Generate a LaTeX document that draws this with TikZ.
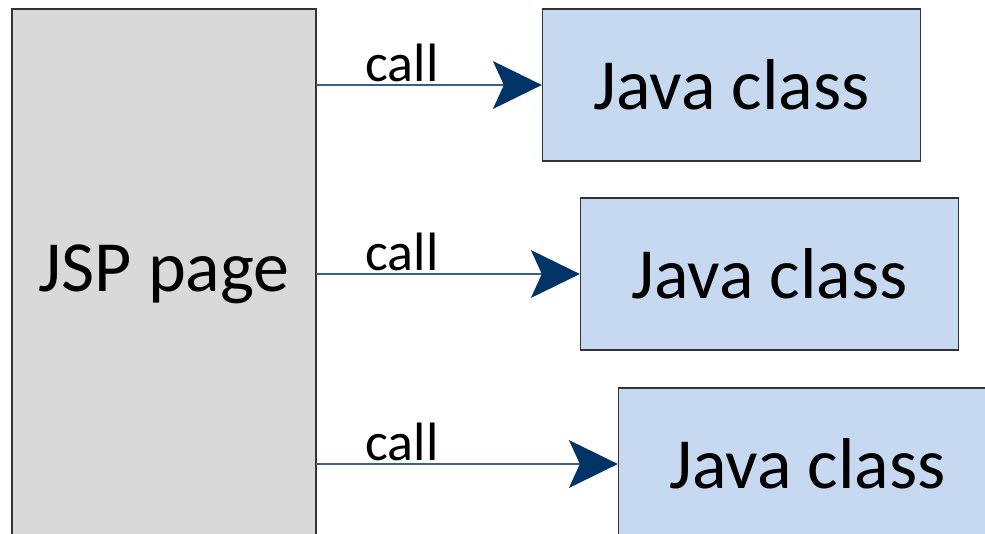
\documentclass[tikz,border=0pt]{standalone}
\usepackage{fontspec}
\setmainfont{Carlito}
\usetikzlibrary{arrows.meta}
\definecolor{jspgray}{HTML}{D9D9D9}
\definecolor{javablue}{HTML}{C6D9F1}
\definecolor{tipblue}{HTML}{003366}
\definecolor{lineblue}{HTML}{3A5F8F}
\begin{document}
\begin{tikzpicture}[x=1pt,y=-1pt,
  jspbox/.style={draw=black!80,line width=1.3pt,fill=jspgray,minimum width=304pt,minimum height=530pt,inner sep=0pt,font=\fontsize{72}{80}\selectfont},
  javabox/.style={draw=black!80,line width=1.3pt,fill=javablue,minimum width=378pt,minimum height=152pt,inner sep=0pt,font=\fontsize{72}{80}\selectfont},
  callarrow/.style={draw=lineblue,line width=1.1pt,-{Stealth[length=49pt,width=48pt,inset=11pt,color=tipblue,line width=0pt]}},
  calllabel/.style={font=\fontsize{54}{60}\selectfont,inner sep=0pt}]
\useasboundingbox (0,0) rectangle (985,533);
\clip (0,0) rectangle (985,533);
\node[jspbox] (jsp) at (164,274) {JSP page};
\node[javabox] (j1) at (731.5,85) {Java class};
\node[javabox] (j2) at (769.5,274) {Java class};
\node[javabox] (j3) at (807.5,464) {Java class};
\coordinate (s1) at (316,85);
\coordinate (s2) at (316,274);
\coordinate (s3) at (316,464);
\draw[callarrow] (s1) -- (j1.west);
\draw[callarrow] (s2) -- (j2.west);
\draw[callarrow] (s3) -- (j3.west);
\node[calllabel] (c1) at (402,63) {call};
\node[calllabel] (c2) at (402,252) {call};
\node[calllabel] (c3) at (402,442) {call};
\end{tikzpicture}
\end{document}
